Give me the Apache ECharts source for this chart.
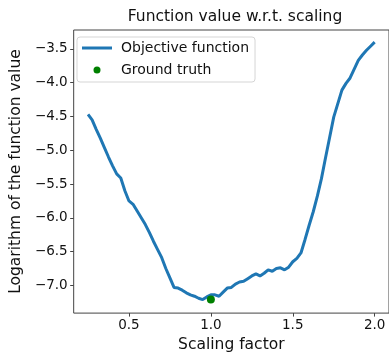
<!DOCTYPE html>
<html>
<head>
<meta charset="utf-8">
<script src="https://cdn.jsdelivr.net/npm/echarts@6/dist/echarts.min.js"></script>
<style>
  html, body { margin: 0; padding: 0; background: #fff; }
  #chart { width: 389px; height: 358px; }
</style>
</head>
<body>
<div id="chart"></div>
<script>
// Scaling factors at which the objective was evaluated
const scalingFactor = [
  0.25, 0.275, 0.3, 0.325, 0.35, 0.375, 0.4, 0.425, 0.45, 0.475,
  0.5, 0.525, 0.55, 0.575, 0.6, 0.625, 0.65, 0.675, 0.7, 0.725,
  0.75, 0.775, 0.8, 0.825, 0.85, 0.875, 0.9, 0.925, 0.95, 0.975,
  1.0, 1.025, 1.05, 1.075, 1.1, 1.125, 1.15, 1.175, 1.2, 1.225,
  1.25, 1.275, 1.3, 1.325, 1.35, 1.375, 1.4, 1.425, 1.45, 1.475,
  1.5, 1.525, 1.55, 1.575, 1.6, 1.625, 1.65, 1.675, 1.7, 1.725,
  1.75, 1.775, 1.8, 1.825, 1.85, 1.875, 1.9, 1.925, 1.95, 1.975,
  2.0
];
// log of the objective at each scaling factor
const objectiveValue = [
  -4.47, -4.55, -4.69, -4.82, -4.96, -5.10, -5.23, -5.35, -5.41, -5.60,
  -5.75, -5.80, -5.90, -6.00, -6.10, -6.22, -6.35, -6.47, -6.59, -6.75,
  -6.89, -7.03, -7.04, -7.07, -7.11, -7.14, -7.16, -7.19, -7.21, -7.17,
  -7.14, -7.14, -7.16, -7.10, -7.04, -7.03, -6.98, -6.95, -6.94, -6.90,
  -6.86, -6.83, -6.86, -6.82, -6.77, -6.79, -6.75, -6.74, -6.77, -6.73,
  -6.65, -6.60, -6.52, -6.32, -6.11, -5.91, -5.68, -5.42, -5.11, -4.81,
  -4.51, -4.31, -4.11, -4.01, -3.93, -3.80, -3.67, -3.59, -3.52, -3.46,
  -3.40
];
// Ground-truth scaling and its objective value
const truthScaling = [1.0];
const truthValue = [-7.21];

const xTicks = [0.5, 1.0, 1.5, 2.0];
const yTicks = [-7.0, -6.5, -6.0, -5.5, -5.0, -4.5, -4.0, -3.5];

const FONT = 'DejaVu Sans';
const SPINE = '#444';
const BLUE = '#1f77b4';
const GREEN = '#008000';

const fmt = v => (v < 0 ? '\u2212' : '') + Math.abs(v).toFixed(1);

const chart = echarts.init(document.getElementById('chart'), null, { renderer: 'canvas' });

chart.setOption({
  animation: false,
  backgroundColor: '#fff',
  textStyle: { fontFamily: FONT },
  title: {
    text: 'Function value w.r.t. scaling',
    left: 230,
    top: 4,
    textAlign: 'center',
    textStyle: { fontFamily: FONT, fontSize: 15.5, fontWeight: 'normal', color: '#111' }
  },
  grid: {
    left: 69, top: 30, right: -2, bottom: 36,
    show: true, borderColor: SPINE, borderWidth: 1, backgroundColor: 'transparent'
  },
  legend: {
    orient: 'vertical',
    left: 77, top: 37,
    padding: [4, 6, 5, 5],
    itemGap: 8,
    itemWidth: 30,
    itemHeight: 7,
    backgroundColor: 'rgba(255,255,255,0.8)',
    borderColor: '#d5d5d5',
    borderWidth: 1,
    borderRadius: 3,
    textStyle: { fontFamily: FONT, fontSize: 14, color: '#111', lineHeight: 14, padding: [0, 0, 0, 4] },
    data: [
      // thin horizontal bar standing in for the line sample
      { name: 'Objective function', icon: 'path://M0,0 H30 V3 H0 Z', itemStyle: { color: BLUE, opacity: 1 } },
      { name: 'Ground truth', icon: 'circle', itemStyle: { color: GREEN, opacity: 1 } }
    ]
  },
  xAxis: {
    type: 'value',
    min: 0.1625, max: 2.0875,
    name: 'Scaling factor',
    nameLocation: 'middle',
    nameGap: 16,
    nameTextStyle: { fontFamily: FONT, fontSize: 15.5, color: '#111' },
    axisLine: { show: false },
    splitLine: { show: false },
    axisTick: { show: true, customValues: xTicks, length: 3.5, lineStyle: { color: SPINE } },
    axisLabel: { customValues: xTicks, formatter: fmt, fontFamily: FONT, fontSize: 13.5, color: '#111', margin: 5 }
  },
  yAxis: {
    type: 'value',
    min: -7.41, max: -3.22,
    name: 'Logarithm of the function value',
    nameLocation: 'middle',
    nameGap: 40,
    nameRotate: 90,
    nameTextStyle: { fontFamily: FONT, fontSize: 15.5, color: '#111' },
    axisLine: { show: false },
    splitLine: { show: false },
    axisTick: { show: true, customValues: yTicks, length: 3.5, lineStyle: { color: SPINE } },
    axisLabel: { customValues: yTicks, formatter: fmt, fontFamily: FONT, fontSize: 13.5, color: '#111', margin: 6 }
  },
  series: [
    {
      name: 'Objective function',
      type: 'line',
      data: scalingFactor.map((x, i) => [x, objectiveValue[i]]),
      symbol: 'none',
      lineStyle: { color: BLUE, width: 3 },
      itemStyle: { color: BLUE },
      z: 2
    },
    {
      name: 'Ground truth',
      type: 'scatter',
      data: truthScaling.map((x, i) => [x, truthValue[i]]),
      symbol: 'circle',
      symbolSize: 8,
      itemStyle: { color: GREEN, opacity: 1 },
      z: 3
    }
  ]
});
</script>
</body>
</html>
